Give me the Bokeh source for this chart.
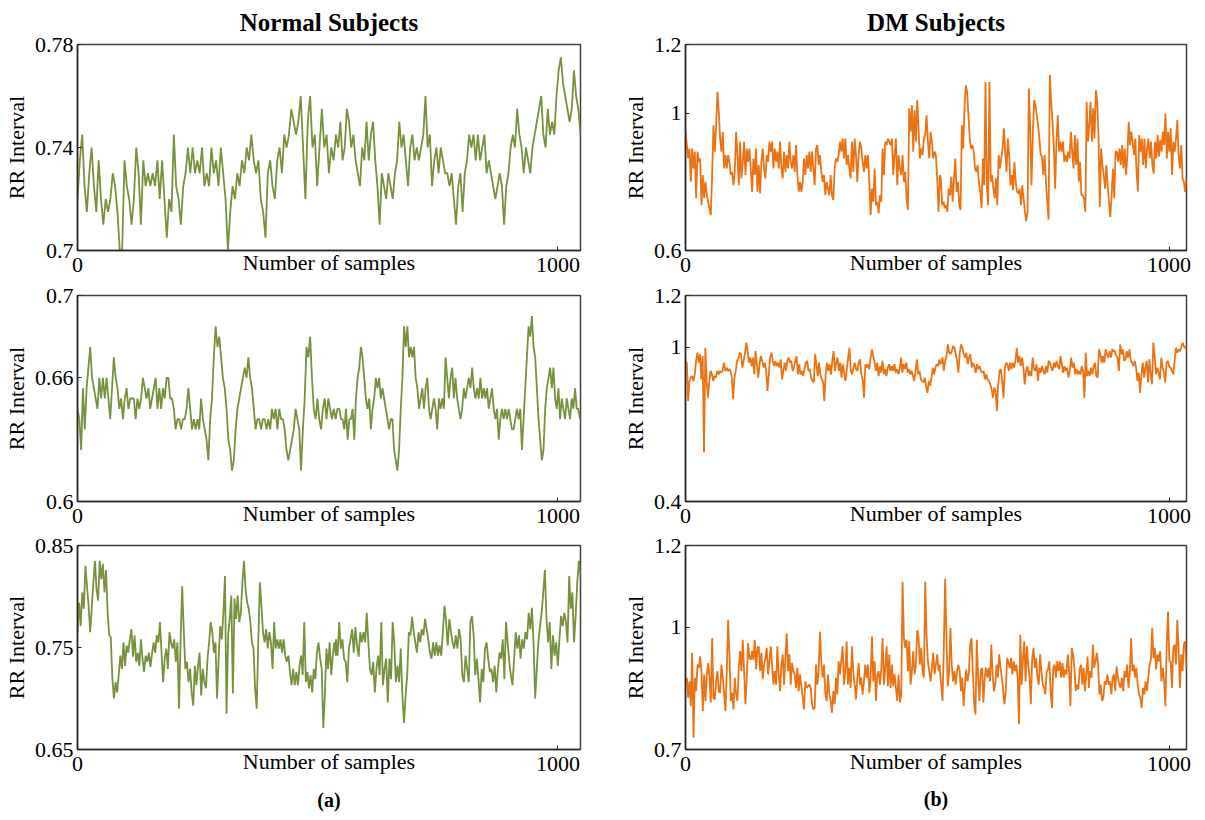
import numpy as np
from bokeh.plotting import figure
from bokeh.layouts import column, row
from bokeh.models import FixedTicker, Title, Range1d, CustomJSTickFormatter
from bokeh.embed import file_html
from bokeh.resources import INLINE

# RR intervals (ms) read along each recording; "_a" covers the first part of the
# record, "_b" the second part, with the sample spans given alongside.

# ---- Normal subject 1 ----
tl_a = [720,735,745,725,715,730,740,725,715,735,720,710,720,715,720,730,725,715,700,700,
        735,725,720,710,720,740,730,710,735,725,730,725,730,725,735,720,735,720,705,720,
        715,745,725,720,710,725,730,740,730,740,730,735,730,740,725,730,725,740,730,735,
        725,740,730,720,700,715,725,720,730,725,735,730,740,735,745,735,730,735,720,715,
        705,730,735,725,720,735,740,730,745,740,745,755,750,745,750,760,740,720,750,760,
        740,745,725,740,755,740,745,730,740,735,745]
tl_b = [745,740,750,735,740,755,750,740,745,735,730,725,740,735,750,735,745,750,735,725,
        710,730,725,720,730,725,720,730,735,750,740,745,735,725,740,745,735,740,735,740,
        745,760,740,745,725,735,740,730,740,735,730,730,725,730,720,710,725,730,715,730,
        735,745,740,745,735,745,735,740,745,730,735,730,725,720,725,730,725,710,725,730,
        740,745,740,755,745,740,730,740,735,730,740,745,750,755,760,745,740,755,745,750,
        745,760,770,775,765,760,755,750,755,770,760,755,745]
tl_span = [(0, 538), (538, 1047)]

# ---- Normal subject 2 ----
ml_a = [645,640,625,655,635,655,665,675,660,655,650,645,660,650,660,650,660,650,640,655,
        670,660,655,645,650,640,650,655,645,650,650,650,640,650,645,650,660,655,650,655,
        645,650,655,660,645,655,645,655,650,660,660,650,650,645,635,640,640,635,640,640,
        645,655,645,635,640,635,640,635,650,640,635,630,620,640,650,670,685,675,680,670,
        660,655,645,630,625,615,620,635,645,650,655,660,665,660,670,660,655,645,635,640,
        640,635,640,640,635,640,635,645,640,645,635,645,640,640,635,625,620,625,630,635,
        645,640,635,615,635,650,675,670,680,660,645,640,650,640,635,645,650,640,650,645,
        640,645,640,645]
ml_b = [645,640,640,635,645,630,640,640,645,630,650,660,665,675,670,660,650,645,650,635,
        645,650,660,655,660,650,655,650,645,640,635,640,640,625,620,615,625,645,660,685,
        675,685,670,675,670,675,660,655,645,650,655,645,655,660,645,640,645,650,645,635,
        650,645,650,645,670,660,650,660,665,650,660,650,645,640,645,655,650,655,660,655,
        665,655,650,655,650,660,650,655,650,655,645,650,655,645,640,645,630,640,645,640,
        645,640,645,640,635,635,640,645,640,645,625,640,655,670,685,680,690,675,670,655,
        640,630,620,625,645,655,660,665,655,665,650,645,655,640,650,645,640,650,645,640,
        650,645,655,645,645,640]
ml_span = [(0, 541), (545, 1046)]

# ---- Normal subject 3 ----
bl_a = [765,794,771,804,788,830,810,791,765,789,814,835,807,796,835,817,832,804,826,784,
        762,760,719,700,716,706,723,742,729,755,732,752,745,758,768,741,762,736,745,732,
        758,739,726,742,736,745,731,744,755,745,762,755,775,745,716,739,749,729,765,755,
        749,758,736,755,690,755,810,768,729,736,716,729,706,693,732,713,732,745,703,729,
        716,710,739,755,775,765,745,755,700,739,771,758,784,820,685,762,778,801,705,798,
        778,801,775,784,814,835,807,794,788,775,755,749,710,690,755,814,791,765,755,768,
        749,765,755,729,775,749,758,749,758,745,758,742,736,742,726,713,729,713,726,713,
        732,742,723,775,716,726,710,723,706,729,719,745,755,739,729,671,703,749,729,755,
        723,742,755,742]
bl_b = [758,742,775,749,758,739,736,716,749,758,768,745,770,752,741,765,755,765,755,784,
        755,729,723,736,706,729,742,723,775,713,729,739,696,739,719,775,755,716,732,716,
        749,703,676,703,723,765,762,780,765,755,745,765,755,768,762,778,768,758,745,739,
        755,742,755,742,752,742,765,791,775,752,778,765,755,749,762,749,768,758,723,716,
        742,729,716,775,781,762,723,739,719,696,729,716,749,755,739,726,729,716,732,706,
        729,745,739,758,719,775,755,736,723,713,739,765,749,762,739,758,749,765,758,784,
        768,789,755,700,729,755,771,784,804,826,778,755,775,729,762,742,755,732,758,781,
        771,784,775,755,820,788,804,755,781,814,835,820]
bl_span = [(0, 538), (538, 1047)]

# ---- DM subject 1 ----
tr_a = [951,907,868,897,800,897,839,888,752,888,858,868,732,820,752,800,761,742,723,703,
        820,965,888,965,1062,1004,926,888,946,839,878,839,878,858,820,829,790,829,946,878,
        790,917,810,858,917,820,897,858,897,839,771,868,820,897,771,849,766,858,897,839,
        810,878,858,917,888,917,839,897,858,888,839,917,839,810,888,829,878,839,917,858,
        839,878,829,907,820,771,800,771,800,868,820,878,839,888,829,888,839,790,897,907,
        849,878,829,800,820,761,800,780,761,820,761,747,839,868,858,878,917,888,926,868,
        926,849,878,839,810,917,829,926,878,800,878,917,897,858,829,878,839,878,800,703,
        780,742,839,732,742,708,761,742,897,820,917,907,926,917,907,926,820,878,926,790,
        878,839,820,878,800,829,752,718,1014,946,1024,888,1009,917,1038,955,868,897,878,926,
        936,994,917,868,946,917,868,888,878,810,713,820]
tr_b = [810,732,742,723,732,713,780,761,815,742,810,868,771,800,732,718,965,897,1014,1081,
        1062,994,926,897,907,888,839,829,849,800,771,723,868,790,1091,790,732,1091,800,820,
        780,752,810,732,878,839,868,897,956,888,829,926,878,790,820,776,858,800,771,766,
        780,732,790,752,713,685,713,1072,956,790,936,1038,1024,994,965,926,878,873,820,878,
        800,742,690,1111,1033,975,907,780,917,994,888,917,888,917,858,878,858,888,868,946,
        888,839,936,849,926,800,858,761,761,752,713,1033,917,965,1033,917,1014,926,1067,1038,
        936,727,897,849,820,780,849,790,742,698,761,839,752,888,888,858,897,849,907,839,
        897,820,878,975,907,946,917,878,926,829,771,936,888,926,849,926,839,897,926,868,
        917,849,824,917,868,936,873,922,888,946,907,999,868,946,888,956,820,917,888,926,
        980,878,839,907,810,800,771,810]
tr_span = [(0, 526), (528, 1036)]

# ---- DM subject 2 ----
mr_a = [946,939,790,868,881,887,868,894,946,978,939,972,874,965,590,997,868,803,868,907,
        894,868,887,881,907,894,907,900,907,939,907,920,907,914,907,881,797,881,907,946,
        952,978,972,920,946,978,1017,984,939,959,926,959,894,984,933,881,933,965,946,920,
        939,907,829,894,959,978,946,926,946,926,939,920,952,874,907,939,907,946,959,939,
        946,907,920,946,965,894,933,894,907,887,914,939,946,907,914,881,868,862,972,933,
        887,939,894,874,868,790,894,939,907,933,894,946,984,907,939,959,907,939,881,933,
        900,868,914,959,997,907,894,920,939,914,907,939,952,894,874,803,933,920,933,914,
        959,991,965,939,907,939,887,926,900,946,894,914,887,920,933,907,926,907,933,900,
        914,894,914,959,900,933,914,939,900,914,894,907,887,868,907,952,894,907,874,868,
        862,881,849,822,868,849,881,920,894,920,933,926,952]
mr_b = [933,939,959,907,946,965,1010,978,972,984,1004,997,972,946,900,978,1010,997,972,959,
        978,933,959,972,920,939,926,900,933,914,926,907,900,907,874,894,874,868,855,836,
        803,842,829,751,855,907,914,868,803,920,939,933,907,939,914,939,920,946,997,939,
        965,926,959,920,855,907,926,887,907,887,959,914,907,933,868,920,900,926,907,894,
        926,900,946,939,920,907,939,920,946,926,914,965,933,900,926,907,920,881,907,959,
        920,939,894,914,894,907,894,926,907,803,978,887,907,887,920,894,926,939,887,881,
        991,972,939,965,939,991,972,959,984,959,991,984,984,965,959,907,1010,972,991,946,
        952,984,959,991,946,939,926,946,920,868,900,822,894,939,881,920,946,862,952,894,
        855,1017,965,894,920,900,874,959,920,900,862,939,946,926,920,907,894,946,997,978,
        991,984,997,1017,1004,997,991]
mr_span = [(0, 525), (526, 1036)]

# ---- DM subject 3 ----
br_a = [859,876,827,867,806,937,729,876,843,908,900,928,892,794,884,819,884,912,876,815,
        973,827,823,867,892,843,839,908,876,835,794,892,1018,933,819,839,798,876,835,819,
        900,941,892,969,892,811,876,961,924,920,941,920,969,896,949,953,892,937,872,908,
        924,949,884,916,953,908,859,892,859,953,884,843,908,933,859,924,985,892,933,859,
        912,892,884,851,900,843,884,855,827,798,867,851,855,859,851,811,798,802,908,859,
        892,989,908,876,908,835,819,884,835,819,790,843,811,876,835,916,884,920,953,859,
        892,965,859,900,851,953,892,859,823,876,912,859,876,835,867,908,876,908,839,876,
        977,867,916,819,884,892,859,896,973,859,900,953,855,933,851,908,855,884,851,819,
        884,815,835,1111,973,949,969,892,965,859,892,941,884,908,993,973,908,949,892,876,
        1111,981,916,892,867,900,937,884,908,933,892,908]
br_b = [892,859,819,949,1119,973,855,892,998,908,867,892,859,892,908,892,843,876,806,859,
        896,867,888,957,973,892,811,786,969,876,819,892,900,815,876,900,876,900,867,957,
        884,843,859,908,876,933,900,876,843,811,843,924,912,900,924,884,916,892,908,876,
        762,981,859,924,965,867,953,908,876,811,924,949,900,924,876,859,933,892,859,851,
        835,892,896,916,843,802,900,908,876,916,892,916,876,912,876,896,884,933,892,806,
        949,933,900,843,859,847,896,908,859,900,843,884,928,851,892,876,957,900,916,937,
        908,835,859,819,827,867,859,884,859,867,835,876,884,843,904,876,859,851,876,843,
        892,876,908,851,884,973,892,908,876,900,859,835,827,802,851,835,867,843,876,908,
        920,998,924,949,896,933,916,941,867,900,867,806,957,1038,916,916,851,949,957,908,
        1018,949,851,933,892,957,965,900]
br_span = [(0, 526), (526, 1036)]

# axis settings per panel
y_ranges = {"tl": (0.70, 0.78), "ml": (0.60, 0.70), "bl": (0.65, 0.85),
            "tr": (0.6, 1.2), "mr": (0.4, 1.2), "br": (0.7, 1.2)}
y_ticks = {"tl": [0.7, 0.74, 0.78], "ml": [0.6, 0.66, 0.7], "bl": [0.65, 0.75, 0.85],
           "tr": [0.6, 1, 1.2], "mr": [0.4, 1, 1.2], "br": [0.7, 1, 1.2]}
x_ticks = [0, 1000]
x_max_left, x_max_right = 1047, 1036

GREEN = "#76923C"
ORANGE = "#EC7314"
FONT = "Liberation Serif"
AX = "#262626"


def panel(key, a_vals, b_vals, span, color, x_max, width, height, borders,
          title=None, caption=None, caption_gap=18):
    xs = np.concatenate([np.linspace(span[0][0], span[0][1], len(a_vals)),
                         np.linspace(span[1][0], span[1][1], len(b_vals))])
    ys = np.concatenate([np.array(a_vals), np.array(b_vals)]) / 1000.0
    left, right, top, bottom = borders
    p = figure(width=width, height=height, output_backend="svg", toolbar_location=None,
               x_range=Range1d(0, x_max), y_range=Range1d(*y_ranges[key]),
               min_border_left=left, min_border_right=right,
               min_border_top=top, min_border_bottom=bottom,
               background_fill_color="white", border_fill_color="white")
    p.line(xs, ys, line_color=color, line_width=1.8)
    p.grid.visible = False
    p.outline_line_color = "#404040"
    p.outline_line_width = 1.5

    p.xaxis.ticker = FixedTicker(ticks=x_ticks)
    p.yaxis.ticker = FixedTicker(ticks=y_ticks[key])
    p.yaxis.formatter = CustomJSTickFormatter(code="return String(Math.round(tick*100)/100);")
    for ax in (p.xaxis[0], p.yaxis[0]):
        ax.major_tick_in = 4
        ax.major_tick_out = 0
        ax.minor_tick_line_color = None
        ax.axis_line_color = AX
        ax.axis_line_width = 1.5
        ax.major_tick_line_color = AX
        ax.major_label_text_font = FONT
        ax.major_label_text_font_size = "22px"
        ax.major_label_text_color = "black"
        ax.axis_label_text_font = FONT
        ax.axis_label_text_font_size = "22px"
        ax.axis_label_text_font_style = "normal"
        ax.axis_label_text_color = "black"
    p.xaxis.axis_label = "Number of samples"
    p.xaxis.major_label_standoff = 7
    p.xaxis.axis_label_standoff = -25
    p.yaxis.axis_label = "RR Interval"
    p.yaxis.major_label_standoff = 4
    p.yaxis.axis_label_standoff = 3

    if title:
        p.title.text = title
        p.title.align = "center"
        p.title.vertical_align = "top"
        p.title.text_font = FONT
        p.title.text_font_size = "25px"
        p.title.text_font_style = "bold"
        p.title.text_color = "black"
        p.title.standoff = 13
    if caption:
        p.add_layout(Title(text=caption, align="center", text_font=FONT,
                           text_font_size="20px", text_font_style="bold",
                           text_color="black", standoff=caption_gap), "below")
    return p


LW, RW = 619, 586
LB, RB = (77, 39), (66, 19)
H1, H2, H3 = 280, 251, 289

p_tl = panel("tl", tl_a, tl_b, tl_span, GREEN, x_max_left, LW, H1,
             (*LB, 44, 30), title="Normal Subjects")
p_tr = panel("tr", tr_a, tr_b, tr_span, ORANGE, x_max_right, RW, H1,
             (*RB, 44, 30), title="DM Subjects")
p_ml = panel("ml", ml_a, ml_b, ml_span, GREEN, x_max_left, LW, H2, (*LB, 15, 30))
p_mr = panel("mr", mr_a, mr_b, mr_span, ORANGE, x_max_right, RW, H2, (*RB, 15, 30))
p_bl = panel("bl", bl_a, bl_b, bl_span, GREEN, x_max_left, LW, H3,
             (*LB, 12, 71), caption="(a)", caption_gap=20)
p_br = panel("br", br_a, br_b, br_span, ORANGE, x_max_right, RW, H3,
             (*RB, 14, 69), caption="(b)", caption_gap=18)

layout = column(row(p_tl, p_tr, spacing=0), row(p_ml, p_mr, spacing=0),
                row(p_bl, p_br, spacing=0), spacing=0)

open("out.html", "w").write(file_html(layout, INLINE))
